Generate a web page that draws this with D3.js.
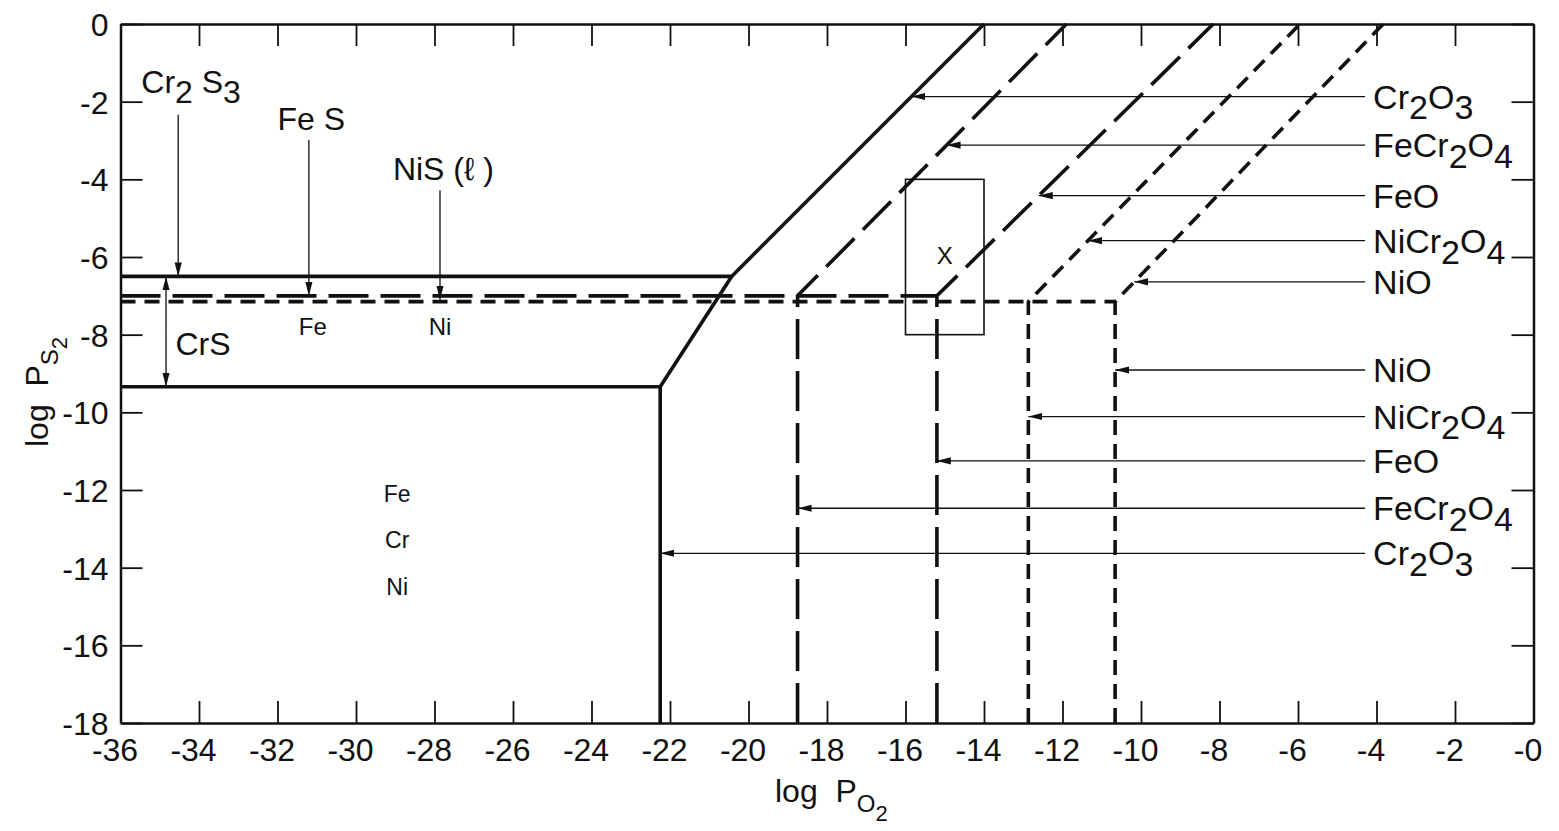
<!DOCTYPE html>
<html>
<head>
<meta charset="utf-8">
<script src="https://cdn.jsdelivr.net/npm/d3@7"></script>
<style>
  html, body { margin: 0; padding: 0; background: #fff; }
  svg { display: block; }
  text { font-family: "Liberation Sans", "DejaVu Sans", sans-serif; fill: #111; }
</style>
</head>
<body>
<svg id="chart" width="1559" height="831"></svg>
<script>
// ---------------- data ----------------
const xTickValues = [-36,-34,-32,-30,-28,-26,-24,-22,-20,-18,-16,-14,-12,-10,-8,-6,-4,-2,0];
const xTickLabels = ["-36","-34","-32","-30","-28","-26","-24","-22","-20","-18","-16","-14","-12","-10","-8","-6","-4","-2","-0"];
const yTickValues = [0,-2,-4,-6,-8,-10,-12,-14,-16,-18];
const yTickLabels = ["0","-2","-4","-6","-8","-10","-12","-14","-16","-18"];

// phase boundaries [log PO2, log PS2]
const cr2o3Boundary    = [[-22.25,-18],[-22.25,-9.34],[-20.43,-6.5],[-14.0,0]];
const cr2s3Boundary    = [[-36,-6.5],[-20.43,-6.5]];
const crSBoundary      = [[-36,-9.34],[-22.25,-9.34]];
const feSBoundary      = [[-36,-7.0],[-15.2,-7.0]];
const niSBoundary      = [[-36,-7.15],[-10.66,-7.15]];
const feCr2O4Boundary  = [[-18.75,-18],[-18.75,-7.0],[-11.9,0]];
const feOBoundary      = [[-15.2,-18],[-15.2,-7.0],[-8.16,0]];
const niCr2O4Boundary  = [[-12.87,-18],[-12.87,-7.15],[-5.95,0]];
const niOBoundary      = [[-10.66,-18],[-10.66,-7.15],[-3.83,0]];

// right-hand label arrows: label, log PS2 of arrow
const upperArrowLabels = ["Cr2O3","FeCr2O4","FeO","NiCr2O4","NiO"];
const upperArrowY      = [-1.87,-3.12,-4.42,-5.58,-6.64];
const lowerArrowLabels = ["NiO","NiCr2O4","FeO","FeCr2O4","Cr2O3"];
const lowerArrowY      = [-8.91,-10.11,-11.25,-12.47,-13.63];
const arrowStartX      = -4.29;

// sulfide annotations (label, arrow x, arrow top y, arrow tip y)
const sulfideLabels = ["Cr2 S3","Fe S","NiS (ℓ )"];
const sulfideArrowX = [-34.53,-31.2,-27.86];
const sulfideArrowTop = [-2.34,-2.99,-4.28];
const sulfideArrowTip = [-6.5,-7.0,-7.1];
const crSArrowX = -34.84;

// test box X
const boxX = [-16,-14];
const boxY = [-8,-4];

// ---------------- drawing ----------------
const svg = d3.select("#chart");
const x = d3.scaleLinear().domain([-36,0]).range([120.5,1533.5]);
const y = d3.scaleLinear().domain([0,-18]).range([24,723]);

const defs = svg.append("defs");
defs.append("marker").attr("id","arr")
  .attr("markerUnits","userSpaceOnUse")
  .attr("viewBox","0 -5 14 10").attr("refX",14).attr("refY",0)
  .attr("markerWidth",14).attr("markerHeight",10).attr("orient","auto")
  .append("path").attr("d","M0,-3.6L14,0L0,3.6Z").attr("fill","#111");

// axes frame + ticks
const gB = svg.append("g").attr("transform",`translate(0,${y(-18)})`)
  .call(d3.axisBottom(x).tickValues(xTickValues).tickSize(-22).tickSizeOuter(0).tickPadding(15)
        .tickFormat((d,i)=>xTickLabels[i]));
const gT = svg.append("g").attr("transform",`translate(0,${y(0)})`)
  .call(d3.axisTop(x).tickValues(xTickValues).tickSize(-22).tickSizeOuter(0).tickFormat(""));
const gL = svg.append("g").attr("transform",`translate(${x(-36)},0)`)
  .call(d3.axisLeft(y).tickValues(yTickValues).tickSize(-22).tickSizeOuter(0).tickPadding(12)
        .tickFormat((d,i)=>yTickLabels[i]));
const gR = svg.append("g").attr("transform",`translate(${x(0)},0)`)
  .call(d3.axisRight(y).tickValues(yTickValues).tickSize(-22).tickSizeOuter(0).tickFormat(""));
[gB,gT,gL,gR].forEach(g=>{
  g.select(".domain").attr("stroke","#111").attr("stroke-width",2.5);
  g.selectAll(".tick line").attr("stroke","#111").attr("stroke-width",1.8);
  g.selectAll("text").style("font-family",'"Liberation Sans", sans-serif').style("font-size","32px").attr("fill","#111");
});
gB.selectAll(".tick text").attr("dy","0.72em").attr("dx",-6);
gL.selectAll(".tick text").attr("dy","0.36em");

// box X
svg.append("rect")
  .attr("x",x(boxX[0])).attr("y",y(boxY[1]))
  .attr("width",x(boxX[1])-x(boxX[0])).attr("height",y(boxY[0])-y(boxY[1]))
  .attr("fill","none").attr("stroke","#111").attr("stroke-width",1.6);
svg.append("text").attr("x",(x(boxX[0])+x(boxX[1]))/2).attr("y",y(-5.95)+9)
  .attr("text-anchor","middle").style("font-size","24px").text("X");

const line = d3.line().x(d=>x(d[0])).y(d=>y(d[1]));
const LONG = "40,12", SHORT = "15,9";
function drawB(pts, dash){
  svg.append("path").attr("d",line(pts)).attr("fill","none")
    .attr("stroke","#111").attr("stroke-width",3.6)
    .attr("stroke-linejoin","round")
    .attr("stroke-dasharray",dash||null);
}
drawB(niSBoundary, SHORT);
drawB(feSBoundary, LONG);
drawB(cr2s3Boundary);
drawB(crSBoundary);
drawB(cr2o3Boundary);
drawB(feCr2O4Boundary, LONG);
drawB(feOBoundary, LONG);
drawB(niCr2O4Boundary, SHORT);
drawB(niOBoundary, SHORT);

// intersection of horizontal level with a boundary polyline
function xAt(pts, yv){
  for (let i=0;i<pts.length-1;i++){
    const [x0,y0]=pts[i],[x1,y1]=pts[i+1];
    if ((yv-y0)*(yv-y1)<=0 && y0!==y1) return x0+(x1-x0)*(yv-y0)/(y1-y0);
  }
  return pts[pts.length-1][0];
}
const boundaryFor = {"Cr2O3":cr2o3Boundary,"FeCr2O4":feCr2O4Boundary,"FeO":feOBoundary,"NiCr2O4":niCr2O4Boundary,"NiO":niOBoundary};

// chemical formula with subscripts
function formula(sel, str, size){
  const parts = str.match(/\d+|[^\d]+/g);
  let sub = false;
  parts.forEach(p=>{
    const isNum = /^\d+$/.test(p);
    const t = sel.append("tspan").text(p);
    if (isNum && !sub){ t.attr("dy", size*0.32); sub = true; }
    else if (!isNum && sub){ t.attr("dy", -size*0.32); sub = false; }
  });
}

function arrowLabel(name, yv){
  const tipX = xAt(boundaryFor[name], yv);
  svg.append("line").attr("x1",x(arrowStartX)).attr("x2",x(tipX))
    .attr("y1",y(yv)).attr("y2",y(yv))
    .attr("stroke","#111").attr("stroke-width",1.3).attr("marker-end","url(#arr)");
  const t = svg.append("text").attr("x",x(arrowStartX)+8).attr("y",y(yv)+12)
    .style("font-size","34px");
  formula(t, name, 34);
}
upperArrowLabels.forEach((n,i)=>arrowLabel(n, upperArrowY[i]));
lowerArrowLabels.forEach((n,i)=>arrowLabel(n, lowerArrowY[i]));

// sulfide annotations
const sulfideLabelX = [-35.47,-31.14,-29.06];
const sulfideLabelY = [-1.78,-2.73,-4.02];
const sulfideAnchor = ["start","middle","start"];
sulfideLabels.forEach((n,i)=>{
  svg.append("line").attr("x1",x(sulfideArrowX[i])).attr("x2",x(sulfideArrowX[i]))
    .attr("y1",y(sulfideArrowTop[i])).attr("y2",y(sulfideArrowTip[i]))
    .attr("stroke","#111").attr("stroke-width",1.3).attr("marker-end","url(#arr)");
  const t = svg.append("text").attr("x",x(sulfideLabelX[i])).attr("y",y(sulfideLabelY[i]))
    .attr("text-anchor",sulfideAnchor[i]).style("font-size","32px").style("white-space","pre");
  formula(t, n, 32);
});
// CrS double arrow
svg.append("line").attr("x1",x(crSArrowX)).attr("x2",x(crSArrowX))
  .attr("y1",y(-7.9)).attr("y2",y(-6.5))
  .attr("stroke","#111").attr("stroke-width",1.3).attr("marker-end","url(#arr)");
svg.append("line").attr("x1",x(crSArrowX)).attr("x2",x(crSArrowX))
  .attr("y1",y(-7.9)).attr("y2",y(-9.34))
  .attr("stroke","#111").attr("stroke-width",1.3).attr("marker-end","url(#arr)");
svg.append("text").attr("x",x(-34.6)).attr("y",y(-8.52)).style("font-size","32px").text("CrS");

// metal labels
const metalNames = ["Fe","Ni"];
const metalX = [-31.1,-27.86];
metalNames.forEach((n,i)=>{
  svg.append("text").attr("x",x(metalX[i])).attr("y",y(-8.0))
    .attr("text-anchor","middle").style("font-size","24px").text(n);
});
const alloyNames = ["Fe","Cr","Ni"];
const alloyY = [-12.3,-13.5,-14.7];
alloyNames.forEach((n,i)=>{
  svg.append("text").attr("x",x(-28.95)).attr("y",y(alloyY[i]))
    .attr("text-anchor","middle").style("font-size","23px").text(n);
});

// axis titles
const xt = svg.append("text").attr("x",775).attr("y",802).style("font-size","32px").style("white-space","pre");
xt.append("tspan").text("log  P");
xt.append("tspan").attr("dy",10).style("font-size","24px").text("O");
xt.append("tspan").attr("dy",9).style("font-size","22px").text("2");

const yt = svg.append("text").attr("transform","translate(48,447) rotate(-90)").style("font-size","32px").style("white-space","pre");
yt.append("tspan").text("log  P");
yt.append("tspan").attr("dy",10).style("font-size","24px").text("S");
yt.append("tspan").attr("dy",9).style("font-size","22px").text("2");
</script>
</body>
</html>
